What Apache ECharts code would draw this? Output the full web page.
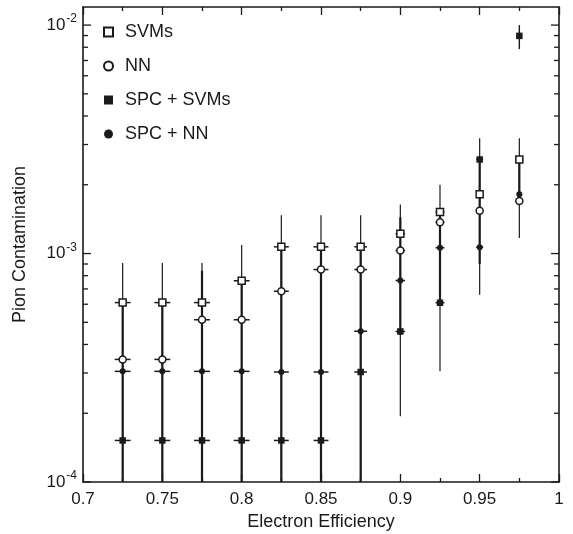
<!DOCTYPE html>
<html><head><meta charset="utf-8">
<script src="https://cdn.jsdelivr.net/npm/echarts@6/dist/echarts.min.js"></script>
<style>html,body{margin:0;padding:0;background:#fff}#c{width:573px;height:534px}</style>
</head><body><div id="c"></div>
<script>
// ---- data ----
const efficiency = [0.725, 0.75, 0.775, 0.8, 0.825, 0.85, 0.875, 0.9, 0.925, 0.95, 0.975];
const effErr = [0.005, 0.005, 0.005, 0.005, 0.0047, 0.0047, 0.004, 0.003, 0.0028, 0.0022, 0];

const svm    = [6.1e-4, 6.1e-4, 6.1e-4, 7.6e-4, 1.07e-3, 1.07e-3, 1.07e-3, 1.22e-3, 1.52e-3, 1.82e-3, 2.58e-3];
const svmLo  = [5e-5, 5e-5, 5e-5, 5e-5, 5e-5, 5e-5, 5e-5, 1.94e-4, 3.05e-4, 6.6e-4, 1.17e-3];
const svmHi  = [9.1e-4, 9.1e-4, 9.1e-4, 1.09e-3, 1.47e-3, 1.47e-3, 1.47e-3, 1.64e-3, 2.0e-3, 3.2e-3, 3.2e-3];

const nn     = [3.44e-4, 3.44e-4, 5.13e-4, 5.13e-4, 6.84e-4, 8.51e-4, 8.51e-4, 1.03e-3, 1.37e-3, 1.54e-3, 1.70e-3];
const nnLo   = [5e-5, 5e-5, 5e-5, 5e-5, 5e-5, 5e-5, 5e-5, 4.4e-4, 6.2e-4, 9.0e-4, 1.70e-3];
const nnHi   = [6.1e-4, 6.1e-4, 8.4e-4, 7.6e-4, 1.07e-3, 1.07e-3, 1.07e-3, 1.44e-3, 1.55e-3, 2.6e-3, 2.58e-3];

const spcSvm   = [1.52e-4, 1.52e-4, 1.52e-4, 1.52e-4, 1.52e-4, 1.52e-4, 3.03e-4, 4.56e-4, 6.09e-4, 2.58e-3, 8.97e-3];
const spcSvmLo = [1.52e-4, 1.52e-4, 1.52e-4, 1.52e-4, 1.52e-4, 1.52e-4, 3.03e-4, 4.56e-4, 6.09e-4, 2.58e-3, 7.85e-3];
const spcSvmHi = [1.52e-4, 1.52e-4, 1.52e-4, 1.52e-4, 1.52e-4, 1.52e-4, 3.03e-4, 4.56e-4, 6.09e-4, 2.58e-3, 1.0e-2];

const spcNn  = [3.05e-4, 3.05e-4, 3.05e-4, 3.05e-4, 3.03e-4, 3.03e-4, 4.57e-4, 7.62e-4, 1.06e-3, 1.066e-3, 1.82e-3];

const seriesNames = ['SVMs', 'NN', 'SPC + SVMs', 'SPC + NN'];
const yMajorTicks = [1e-4, 1e-3, 1e-2];
const yMinorTicks = [2e-4, 3e-4, 4e-4, 5e-4, 6e-4, 7e-4, 8e-4, 9e-4, 2e-3, 3e-3, 4e-3, 5e-3, 6e-3, 7e-3, 8e-3, 9e-3];
const xMin = 0.7, xMax = 1.0, xStep = 0.05;
const yMin = 1e-4, yMax = 0.012;

// ---- chart ----
const FONT = '"Liberation Sans", Arial, Helvetica, sans-serif';
const INK = '#1a1a1a';
const chart = echarts.init(document.getElementById('c'), null, {renderer: 'canvas'});

function errSeries(id, vals, lo, hi, vWidth) {
  return {
    type: 'custom', id: id, silent: true, clip: true, z: 2,
    encode: {x: 0, y: 1},
    data: efficiency.map((x, i) => [x, vals[i], lo[i], hi[i], effErr[i]]),
    renderItem(params, api) {
      const x = api.value(0), y = api.value(1), l = api.value(2), h = api.value(3), xe = api.value(4);
      const children = [];
      if (h > l) {
        const p1 = api.coord([x, h]), p2 = api.coord([x, l]);
        children.push({type: 'line', shape: {x1: p1[0], y1: p1[1], x2: p2[0], y2: p2[1]},
          style: {stroke: INK, lineWidth: vWidth}});
      }
      if (xe > 0) {
        const a = api.coord([x - xe, y]), b = api.coord([x + xe, y]);
        children.push({type: 'line', shape: {x1: a[0], y1: a[1], x2: b[0], y2: b[1]},
          style: {stroke: INK, lineWidth: 1.5}});
      }
      return {type: 'group', children: children};
    }
  };
}

function tickSeries(id, vals, len) {
  return {
    type: 'custom', id: id, silent: true, clip: false, z: 5,
    encode: {x: 0, y: 1},
    data: vals.map(v => [xMin, v]),
    renderItem(params, api) {
      const v = api.value(1);
      const pl = api.coord([xMin, v]), pr = api.coord([xMax, v]);
      return {type: 'group', children: [
        {type: 'line', shape: {x1: pl[0], y1: pl[1], x2: pl[0] + len, y2: pl[1]}, style: {stroke: INK, lineWidth: 1.3}},
        {type: 'line', shape: {x1: pr[0] - len, y1: pr[1], x2: pr[0], y2: pr[1]}, style: {stroke: INK, lineWidth: 1.3}}
      ]};
    }
  };
}

function yLabel(v) {
  const e = Math.log10(v);
  const r = Math.round(e);
  if (Math.abs(e - r) > 1e-6) return '';
  return '{b|10}{s|' + r + '}';
}

const xAxisCommon = {
  type: 'value', min: xMin, max: xMax, interval: xStep,
  axisLine: {show: true, onZero: false, lineStyle: {color: INK, width: 1.6}},
  axisTick: {show: true, inside: true, length: 8, lineStyle: {color: INK, width: 1.3}},
  minorTick: {show: true, splitNumber: 2, length: 4, lineStyle: {color: INK, width: 1.3}},
  splitLine: {show: false}, minorSplitLine: {show: false}
};

const option = {
  backgroundColor: '#fff',
  animation: false,
  textStyle: {fontFamily: FONT},
  grid: {left: 83, right: 14, top: 7, bottom: 52, containLabel: false, outerBoundsMode: 'none'},
  legend: {
    orient: 'vertical', left: 103, top: 22, padding: 0,
    itemWidth: 9, itemHeight: 9, itemGap: 14,
    data: seriesNames,
    textStyle: {fontFamily: FONT, fontSize: 18, color: INK, lineHeight: 20, padding: [0, 0, 0, 7]}
  },
  xAxis: [
    Object.assign({}, xAxisCommon, {
      position: 'bottom',
      axisLabel: {show: true, fontSize: 17, color: INK, margin: 9, fontFamily: FONT},
      name: 'Electron Efficiency', nameLocation: 'middle', nameGap: 31,
      nameTextStyle: {fontSize: 18, color: INK, fontFamily: FONT}
    }),
    Object.assign({}, xAxisCommon, {position: 'top', axisLabel: {show: false}})
  ],
  yAxis: [
    {
      type: 'log', logBase: 10, min: yMin, max: yMax, position: 'left',
      axisLine: {show: true, onZero: false, lineStyle: {color: INK, width: 1.6}},
      axisTick: {show: false}, minorTick: {show: false},
      splitLine: {show: false},
      axisLabel: {
        show: true, margin: 6, color: INK, fontFamily: FONT, formatter: yLabel,
        rich: {
          b: {fontSize: 17, color: INK, fontFamily: FONT},
          s: {fontSize: 12, color: INK, fontFamily: FONT, padding: [0, 0, 12, 1]}
        }
      },
      name: 'Pion Contamination', nameLocation: 'middle', nameGap: 54, nameRotate: 90,
      nameTextStyle: {fontSize: 18, color: INK, fontFamily: FONT}
    },
    {
      type: 'log', logBase: 10, min: yMin, max: yMax, position: 'right',
      axisLine: {show: true, onZero: false, lineStyle: {color: INK, width: 1.6}},
      axisTick: {show: false}, minorTick: {show: false}, splitLine: {show: false},
      axisLabel: {show: false}
    }
  ],
  series: [
    errSeries('svmErr', svm, svmLo, svmHi, 1.2),
    errSeries('nnErr', nn, nnLo, nnHi, 2.2),
    errSeries('spcSvmErr', spcSvm, spcSvmLo, spcSvmHi, 1.4),
    errSeries('spcNnErr', spcNn, spcNn, spcNn, 1.4),
    tickSeries('yMajor', yMajorTicks, 8),
    tickSeries('yMinor', yMinorTicks, 5),
    {
      type: 'scatter', name: seriesNames[0], z: 4, symbol: 'rect', symbolSize: 7,
      itemStyle: {color: '#fff', borderColor: INK, borderWidth: 1.5, opacity: 1},
      data: efficiency.map((x, i) => [x, svm[i]])
    },
    {
      type: 'scatter', name: seriesNames[1], z: 4, symbol: 'circle', symbolSize: 7,
      itemStyle: {color: '#fff', borderColor: INK, borderWidth: 1.5, opacity: 1},
      data: efficiency.map((x, i) => [x, nn[i]])
    },
    {
      type: 'scatter', name: seriesNames[2], z: 4, symbol: 'rect', symbolSize: 6.5,
      itemStyle: {color: INK, borderWidth: 0, opacity: 1},
      data: efficiency.map((x, i) => [x, spcSvm[i]])
    },
    {
      type: 'scatter', name: seriesNames[3], z: 4, symbol: 'circle', symbolSize: 6,
      itemStyle: {color: INK, borderWidth: 0, opacity: 1},
      data: efficiency.map((x, i) => [x, spcNn[i]])
    }
  ]
};
chart.setOption(option);
</script>
</body></html>
